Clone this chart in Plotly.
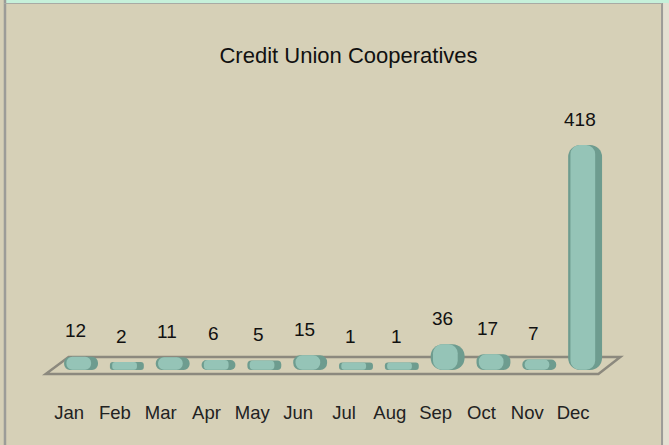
import plotly.graph_objects as go

# ---- data ----
months = ["Jan", "Feb", "Mar", "Apr", "May", "Jun",
          "Jul", "Aug", "Sep", "Oct", "Nov", "Dec"]
counts = [12, 2, 11, 6, 5, 15, 1, 1, 36, 17, 7, 418]
chart_title = "Credit Union Cooperatives"

# ---- canvas / styling ----
W, H = 669, 445
BG = "#d6d0b7"
FONT = "Liberation Sans, Arial, sans-serif"
BAR_DARK = "#6e9c8f"
BAR_LIGHT = "#95c4b7"
FLOOR_LINE = "#8c897e"

# vertical scale: bars stand on a thin plinth so zero-height months still show
PAD = 13.3            # plinth height in data units
Y_TOP = 470
BASE_PX = 370         # pixel row of the bar bottoms
PX_PER_UNIT = 0.5216


def px_x(x):
    return x / W


def px_y(y):
    return 1 - y / H


y_dom = [px_y(BASE_PX), px_y(BASE_PX - (Y_TOP + PAD) * PX_PER_UNIT)]
STEP = 46.1
first_center = 77.5
x_dom = [px_x(first_center - STEP / 2), px_x(first_center - STEP / 2 + 12 * STEP)]

fig = go.Figure()

# body of each cylinder (darker rim)
fig.add_trace(go.Bar(
    x=months, y=[v + PAD for v in counts], base=-PAD,
    width=0.74, marker=dict(color=BAR_DARK, cornerradius=12, line=dict(width=0)),
    hoverinfo="skip", showlegend=False,
))
# lit face of each cylinder
fig.add_trace(go.Bar(
    x=months, y=[v + PAD - 0.6 for v in counts], base=-PAD + 0.6,
    width=0.54, offset=-0.32,
    marker=dict(color=BAR_LIGHT, cornerradius=9, line=dict(width=0)),
    hoverinfo="skip", showlegend=False,
))

# value labels above the bars
for m, v in zip(months, counts):
    fig.add_annotation(
        x=m, y=v, xref="x", yref="y", text=str(v), showarrow=False,
        xanchor="center", yanchor="middle", xshift=-5.5, yshift=26,
        font=dict(family=FONT, size=19, color="#111111"),
    )

shapes = []
# floor plate (parallelogram) under the bars
floor = [(42, 374), (65, 357), (620, 357), (598, 374)]
path = "M " + " L ".join(f"{px_x(a):.5f},{px_y(b):.5f}" for a, b in floor) + " Z"
shapes.append(dict(type="path", path=path, xref="paper", yref="paper",
                   line=dict(color=FLOOR_LINE, width=2.5), fillcolor=BG,
                   layer="below"))
# frame: mint strip on top, grey border lines
shapes.append(dict(type="rect", xref="paper", yref="paper",
                   x0=0, x1=1, y0=px_y(3), y1=1,
                   fillcolor="#c6f0da", line=dict(width=0), layer="below"))
shapes.append(dict(type="rect", xref="paper", yref="paper",
                   x0=px_x(663), x1=1, y0=0, y1=px_y(3),
                   fillcolor="#e4e0d2", line=dict(width=0), layer="below"))
shapes.append(dict(type="line", xref="paper", yref="paper",
                   x0=px_x(1), x1=px_x(1), y0=0, y1=1,
                   line=dict(color="#9c9c98", width=2.5), layer="below"))
shapes.append(dict(type="line", xref="paper", yref="paper",
                   x0=px_x(662), x1=px_x(662), y0=0, y1=px_y(3),
                   line=dict(color="#9c9c98", width=2), layer="below"))
shapes.append(dict(type="line", xref="paper", yref="paper",
                   x0=0, x1=px_x(662), y0=px_y(3.5), y1=px_y(3.5),
                   line=dict(color="#a8aaa4", width=1.2), layer="below"))

fig.update_layout(
    width=W, height=H,
    margin=dict(l=0, r=0, t=0, b=0),
    paper_bgcolor=BG, plot_bgcolor="rgba(0,0,0,0)",
    barmode="overlay",
    title=dict(text=chart_title, x=px_x(348.5), xanchor="center",
               y=px_y(55), yanchor="middle",
               font=dict(family=FONT, size=22, color="#111111")),
    xaxis=dict(domain=x_dom, range=[-0.5, 11.5], type="category",
               showgrid=False, zeroline=False, showline=False, ticks="",
               ticklabelshift=-12, ticklabelstandoff=29,
               tickfont=dict(family=FONT, size=18.5, color="#222222")),
    yaxis=dict(domain=y_dom, range=[-PAD, Y_TOP], visible=False,
               showgrid=False, zeroline=False),
    shapes=shapes,
    showlegend=False,
)

fig.write_html("out.html")
